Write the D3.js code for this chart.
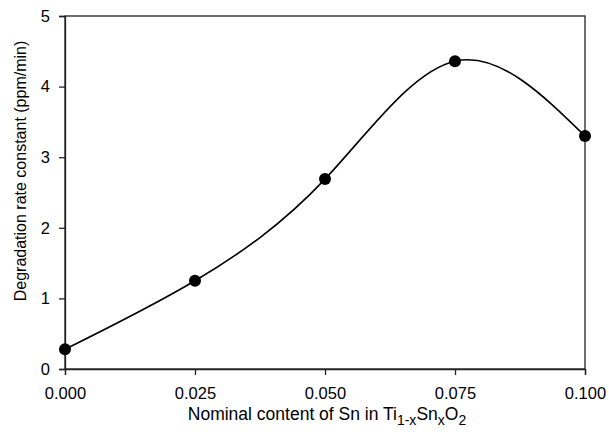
<!DOCTYPE html>
<html>
<head>
<meta charset="utf-8">
<script src="https://cdn.jsdelivr.net/npm/d3@7"></script>
<style>
  body { margin: 0; background: #fff; }
  text { font-family: "Liberation Sans", Arial, sans-serif; fill: #000; }
</style>
</head>
<body>
<svg id="chart" width="609" height="435"></svg>
<script>
// data
var snContent = [0.000, 0.025, 0.050, 0.075, 0.100];
var rateConst = [0.28, 1.25, 2.69, 4.36, 3.30];
var xTicks = [0, 0.025, 0.05, 0.075, 0.1];
var yTicks = [0, 1, 2, 3, 4, 5];

var svg = d3.select('#chart');
var pLeft = 65, pRight = 585, pTop = 16, pBottom = 369;

var x = d3.scaleLinear().domain([0, 0.1]).range([pLeft, pRight]);
var y = d3.scaleLinear().domain([0, 5]).range([pBottom, pTop]);

// frame
svg.append('rect').attr('x', pLeft).attr('y', pTop)
    .attr('width', pRight - pLeft).attr('height', pBottom - pTop)
    .attr('fill', 'none').attr('stroke', '#222').attr('stroke-width', 1.3);

var xAxis = svg.append('g').attr('transform', 'translate(0,' + pBottom + ')')
    .call(d3.axisBottom(x).tickValues(xTicks).tickSize(6).tickPadding(12)
        .tickFormat(d3.format('.3f')));
var yAxis = svg.append('g').attr('transform', 'translate(' + pLeft + ',0)')
    .call(d3.axisLeft(y).tickValues(yTicks).tickSize(6).tickPadding(9)
        .tickFormat(d3.format('d')));
[xAxis, yAxis].forEach(function(g) {
    g.select('.domain').attr('stroke', '#222').attr('stroke-width', 1.3);
    g.selectAll('.tick line').attr('stroke', '#222').attr('stroke-width', 1.3);
    g.selectAll('.tick text').attr('font-size', 16.5).attr('fill', '#000')
        .style('font-family', '"Liberation Sans", Arial, sans-serif');
});

var pts = snContent.map(function(d, i) { return [d, rateConst[i]]; });
var line = d3.line()
    .x(function(d) { return x(d[0]); })
    .y(function(d) { return y(d[1]); })
    .curve(d3.curveNatural);

svg.append('path').datum(pts).attr('d', line)
    .attr('fill', 'none').attr('stroke', '#000').attr('stroke-width', 1.6);

svg.selectAll('circle.pt').data(pts).enter().append('circle')
    .attr('class', 'pt')
    .attr('cx', function(d) { return x(d[0]); })
    .attr('cy', function(d) { return y(d[1]); })
    .attr('r', 6).attr('fill', '#000');

// axis titles
svg.append('text')
    .attr('transform', 'translate(26,171) rotate(-90)')
    .attr('text-anchor', 'middle').attr('font-size', 16)
    .text('Degradation rate constant (ppm/min)');

var xt = svg.append('text').attr('x', 327).attr('y', 420)
    .attr('text-anchor', 'middle').attr('font-size', 17.5);
xt.append('tspan').text('Nominal content of Sn in Ti');
xt.append('tspan').attr('dy', 5).attr('font-size', 14).text('1-x');
xt.append('tspan').attr('dy', -5).text('Sn');
xt.append('tspan').attr('dy', 5).attr('font-size', 14).text('x');
xt.append('tspan').attr('dy', -5).text('O');
xt.append('tspan').attr('dy', 5).attr('font-size', 14).text('2');
</script>
</body>
</html>
